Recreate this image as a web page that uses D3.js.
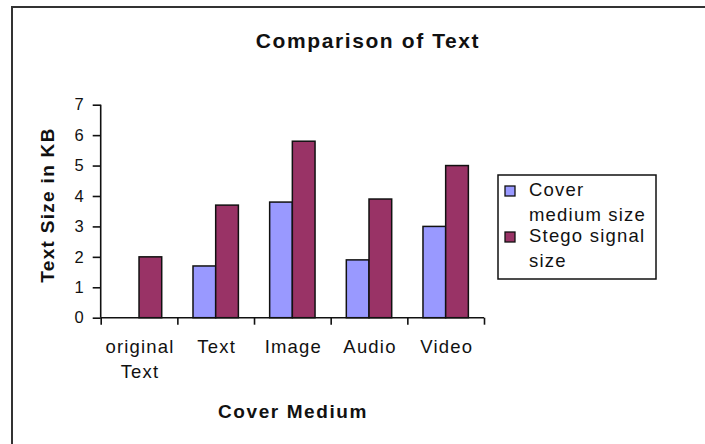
<!DOCTYPE html>
<html>
<head>
<meta charset="utf-8">
<script src="https://cdn.jsdelivr.net/npm/d3@7"></script>
<style>
  body { margin: 0; background: #fff; }
  svg text { font-family: "Liberation Sans", Arial, sans-serif; fill: #111; }
</style>
</head>
<body>
<svg id="chart" width="705" height="444"></svg>
<script>
// data
var categories = ["original Text", "Text", "Image", "Audio", "Video"];
var categoryLines = [["original", "Text"], ["Text"], ["Image"], ["Audio"], ["Video"]];
var seriesNames = ["Cover medium size", "Stego signal size"];
var legendLines = [["Cover", "medium size"], ["Stego signal", "size"]];
var coverValues = [0, 1.7, 3.8, 1.9, 3.0];
var stegoValues = [2.0, 3.7, 5.8, 3.9, 5.0];
var yTicks = [0, 1, 2, 3, 4, 5, 6, 7];
var colors = ["#9999FF", "#993366"];

var svg = d3.select("#chart");

// outer frame
svg.append("rect")
	.attr("x", 12).attr("y", 7)
	.attr("width", 720).attr("height", 460)
	.style("fill", "none")
	.style("stroke", "#333")
	.style("stroke-width", 2);

var plot = { left: 100.7, right: 484, top: 104.7, bottom: 317.7 };

var x0 = d3.scaleBand()
	.domain(categories)
	.range([plot.left, plot.right])
	.padding(0);

var bw = x0.bandwidth();
var barW = bw * 0.296;
var x1 = d3.scaleBand()
	.domain(seriesNames)
	.range([(bw - 2 * barW) / 2, (bw + 2 * barW) / 2]);

var y = d3.scaleLinear()
	.domain([0, 7])
	.range([plot.bottom, plot.top]);

var rows = categories.map(function(c, i) {
	return { cat: c, values: [coverValues[i], stegoValues[i]] };
});

/* ------- BARS -------*/
var groups = svg.append("g").attr("class", "bars")
	.selectAll("g")
	.data(rows)
	.enter().append("g")
	.attr("transform", function(d) { return "translate(" + x0(d.cat) + ",0)"; });

groups.selectAll("rect")
	.data(function(d) {
		return d.values.map(function(v, i) { return { name: seriesNames[i], value: v, idx: i }; })
			.filter(function(b) { return b.value > 0; });
	})
	.enter().append("rect")
	.attr("x", function(d) { return x1(d.name); })
	.attr("width", x1.bandwidth())
	.attr("y", function(d) { return y(d.value); })
	.attr("height", function(d) { return y(0) - y(d.value); })
	.style("fill", function(d) { return colors[d.idx]; })
	.style("stroke", "#111")
	.style("stroke-width", 1.5);

/* ------- AXES -------*/
var yAxis = d3.axisLeft(y)
	.tickValues(yTicks)
	.tickSize(8)
	.tickPadding(9)
	.tickFormat(d3.format("d"));

var gy = svg.append("g")
	.attr("transform", "translate(" + plot.left + ",0)")
	.call(yAxis);
gy.select(".domain").remove();
gy.append("line")
	.attr("x1", 0).attr("x2", 0)
	.attr("y1", plot.top).attr("y2", plot.bottom)
	.style("stroke", "#111").style("stroke-width", 1.6);
gy.selectAll(".tick line").style("stroke", "#111").style("stroke-width", 1.6);
gy.selectAll(".tick text")
	.style("font-size", "16.5px")
	.style("font-family", "Liberation Sans, Arial, sans-serif")
	.attr("fill", "#111");

// category axis, ticks between groups
var xBounds = categories.map(function(c) { return x0(c); }).concat([plot.right]);
var xLinear = d3.scaleLinear().domain([plot.left, plot.right]).range([plot.left, plot.right]);
var xAxis = d3.axisBottom(xLinear)
	.tickValues(xBounds)
	.tickSize(7)
	.tickFormat("");

var gx = svg.append("g")
	.attr("transform", "translate(0," + plot.bottom + ")")
	.call(xAxis);
gx.select(".domain").remove();
gx.append("line")
	.attr("x1", plot.left).attr("x2", plot.right)
	.style("stroke", "#111").style("stroke-width", 1.6);
gx.selectAll(".tick line").style("stroke", "#111").style("stroke-width", 1.6);

var catLabels = svg.append("g").selectAll("text")
	.data(categories)
	.enter().append("text")
	.attr("text-anchor", "middle")
	.attr("x", function(d) { return x0(d) + bw / 2 + 1; })
	.attr("y", 353)
	.style("font-size", "18.5px")
	.style("letter-spacing", "1.2px");

catLabels.selectAll("tspan")
	.data(function(d, i) { return categoryLines[i]; })
	.enter().append("tspan")
	.attr("x", function() { return d3.select(this.parentNode).attr("x"); })
	.attr("dy", function(d, i) { return i == 0 ? 0 : 25; })
	.text(function(d) { return d; });

/* ------- TITLES -------*/
svg.append("text")
	.attr("x", 368).attr("y", 48)
	.attr("text-anchor", "middle")
	.style("font-size", "21px")
	.style("font-weight", "bold")
	.style("letter-spacing", "1.6px")
	.text("Comparison of Text");

svg.append("text")
	.attr("x", 293).attr("y", 418)
	.attr("text-anchor", "middle")
	.style("font-size", "19px")
	.style("font-weight", "bold")
	.style("letter-spacing", "1.6px")
	.text("Cover Medium");

svg.append("text")
	.attr("transform", "translate(54,205) rotate(-90)")
	.attr("text-anchor", "middle")
	.style("font-size", "19px")
	.style("font-weight", "bold")
	.style("letter-spacing", "1.3px")
	.text("Text Size in KB");

/* ------- LEGEND -------*/
var legend = svg.append("g").attr("class", "legend");
legend.append("rect")
	.attr("x", 498).attr("y", 175)
	.attr("width", 158).attr("height", 104)
	.style("fill", "#fff")
	.style("stroke", "#111")
	.style("stroke-width", 1.5);

var items = legend.selectAll("g.item")
	.data(seriesNames)
	.enter().append("g")
	.attr("class", "item")
	.attr("transform", function(d, i) { return "translate(505," + (186 + i * 46) + ")"; });

items.append("rect")
	.attr("width", 10).attr("height", 10)
	.style("fill", function(d, i) { return colors[i]; })
	.style("stroke", "#111")
	.style("stroke-width", 1.3);

items.append("text")
	.attr("x", 24).attr("y", 10)
	.style("font-size", "18.5px")
	.style("letter-spacing", "1.2px")
	.selectAll("tspan")
	.data(function(d, i) { return legendLines[i]; })
	.enter().append("tspan")
	.attr("x", 24)
	.attr("dy", function(d, i) { return i == 0 ? 0 : 25; })
	.text(function(d) { return d; });
</script>
</body>
</html>
